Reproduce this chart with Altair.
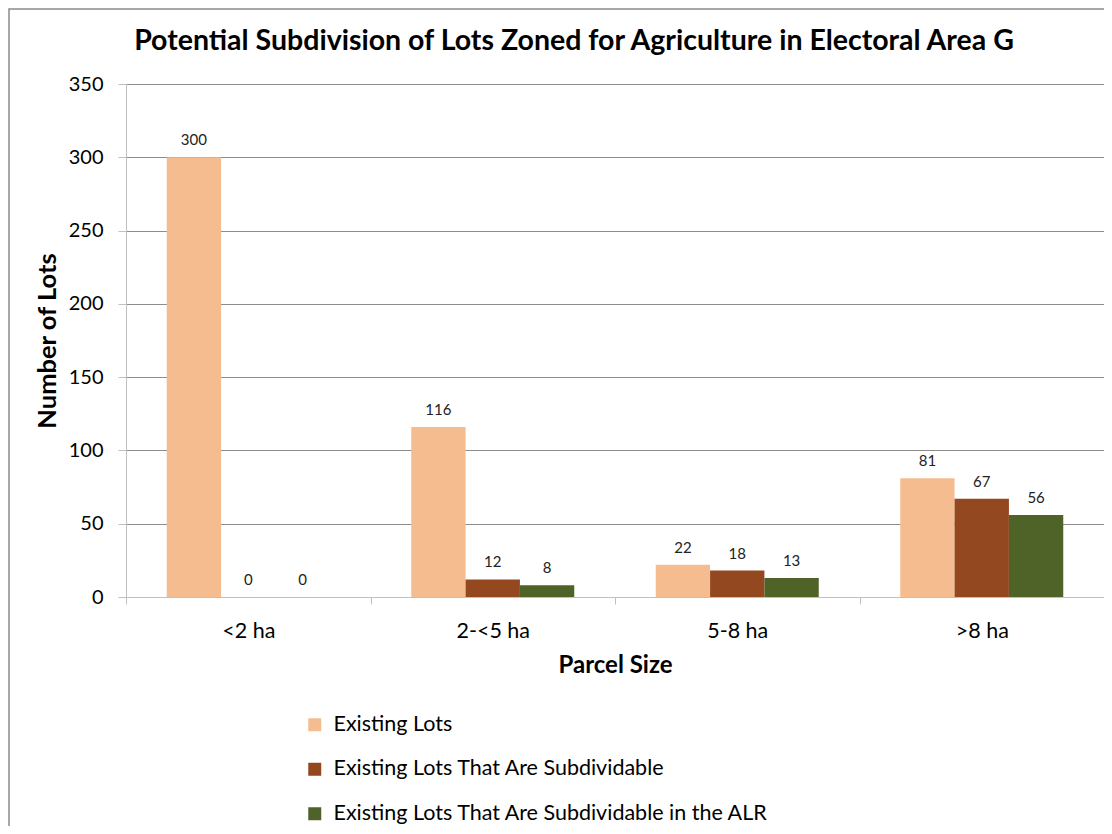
import altair as alt
import pandas as pd

categories = ["<2 ha", "2-<5 ha", "5-8 ha", ">8 ha"]
series = [
    "Existing Lots",
    "Existing Lots That Are Subdividable",
    "Existing Lots That Are Subdividable in the ALR",
]
existing_lots = [300, 116, 22, 81]
subdividable = [0, 12, 18, 67]
subdividable_alr = [0, 8, 13, 56]
colors = ["#F4BC8F", "#93481F", "#4F6228"]
y_ticks = [0, 50, 100, 150, 200, 250, 300, 350]
chart_title = ["Potential Subdivision of Lots Zoned for Agriculture in Electoral Area G"]

rows = []
for name, vals in zip(series, [existing_lots, subdividable, subdividable_alr]):
    for c, v in zip(categories, vals):
        rows.append({"Parcel Size": c, "Series": name, "Lots": v})
df = pd.DataFrame(rows)

FONT = "Lato"

x_enc = alt.X(
    "Parcel Size:N",
    sort=categories,
    scale=alt.Scale(paddingInner=0, paddingOuter=0),
    axis=alt.Axis(
        title="Parcel Size",
        labelAngle=0,
        tickBand="extent",
        grid=False,
        domainColor="#c0c0c0",
        tickColor="#c0c0c0",
        tickSize=7,
        labelFontSize=21.5,
        labelPadding=16,
        labelColor="#000000",
        labelFont=FONT,
        titleFont=FONT,
        titleFontSize=24,
        titleFontWeight="bold",
        titleColor="#000000",
        titlePadding=12,
    ),
)
xoff_enc = alt.XOffset(
    "Series:N", sort=series, scale=alt.Scale(paddingInner=0, paddingOuter=0.75)
)
y_enc = alt.Y(
    "Lots:Q",
    scale=alt.Scale(domain=[0, 350], nice=False),
    axis=alt.Axis(
        title="Number of Lots",
        values=y_ticks,
        grid=True,
        gridColor={
            "condition": {"test": "datum.value === 0", "value": "#c0c0c0"},
            "value": "#8c8c8c",
        },
        domainColor="#c0c0c0",
        tickColor="#c0c0c0",
        tickSize=8,
        labelFontSize=20,
        labelPadding=15,
        labelColor="#000000",
        labelFont=FONT,
        titleFont=FONT,
        titleFontSize=25.5,
        titleFontWeight="bold",
        titleColor="#000000",
        titlePadding=8,
    ),
)
color_enc = alt.Color(
    "Series:N",
    sort=series,
    scale=alt.Scale(domain=series, range=colors),
    legend=alt.Legend(
        title=None,
        orient="none",
        legendX=178,
        legendY=630,
        direction="vertical",
        symbolType="square",
        symbolSize=169,
        symbolStrokeWidth=0,
        symbolOpacity=1,
        labelFontSize=21.5,
        labelFont=FONT,
        labelColor="#000000",
        labelOffset=8,
        rowPadding=21.5,
        labelLimit=600,
    ),
)

bars = alt.Chart(df).mark_bar().encode(
    x=x_enc, xOffset=xoff_enc, y=y_enc, color=color_enc
)
labels = alt.Chart(df).mark_text(
    dy=-12, baseline="alphabetic", fontSize=15, font=FONT, color="#222222"
).encode(
    x=alt.X("Parcel Size:N", sort=categories),
    xOffset=alt.XOffset("Series:N", sort=series),
    y="Lots:Q",
    text="Lots:Q",
)
border = alt.Chart(pd.DataFrame({"a": [0]})).mark_rect(
    fill=None, stroke="#8a8a8a", strokeWidth=1.5
).encode(
    x=alt.value(-117), x2=alt.value(1000), y=alt.value(-75), y2=alt.value(800)
)
title = alt.Chart(pd.DataFrame({"t": chart_title})).mark_text(
    font=FONT, fontSize=28.5, fontWeight="bold", color="#000000",
    align="center", baseline="alphabetic",
).encode(x=alt.value(448), y=alt.value(-34), text="t:N")

chart = (
    alt.layer(border, bars, labels, title)
    .properties(
        width=978,
        height=513,
        autosize=alt.AutoSizeParams(type="none"),
        padding={"left": 118, "top": 76, "right": 0, "bottom": 229},
    )
    .configure_view(stroke=None)
    .configure(background="white")
)

chart.save("out.html", embed_options={"renderer": "svg", "actions": False})
